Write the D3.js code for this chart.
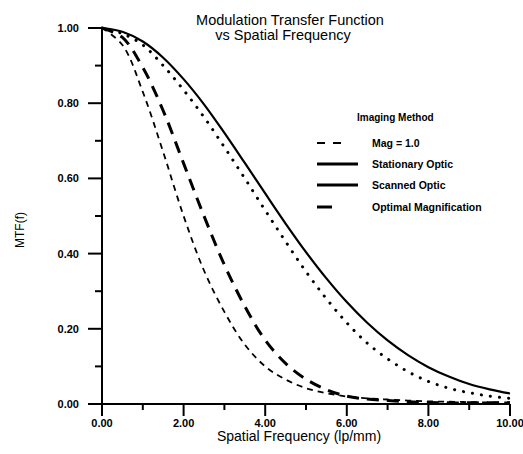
<!DOCTYPE html>
<html><head><meta charset="utf-8">
<script src="https://cdn.jsdelivr.net/npm/d3@7"></script>
<style>
body{margin:0;background:#fff;}
svg{display:block;}
text{font-family:"Liberation Sans",Arial,sans-serif;fill:#000;}
</style></head>
<body>
<svg id="c" width="523" height="454"></svg>
<script>
const freq       = [0,0.5,1,1.5,2,2.5,3,3.5,4,4.5,5,5.5,6,6.5,7,7.5,8,8.5,9,9.5,10];
const magOne     = [1.00,0.955,0.83,0.67,0.50,0.355,0.245,0.158,0.10,0.065,0.042,0.029,0.020,0.015,0.012,0.009,0.007,0.006,0.005,0.004,0.004];
const stationary = [1.00,0.99,0.964,0.921,0.864,0.797,0.721,0.641,0.56,0.48,0.404,0.334,0.271,0.216,0.169,0.13,0.098,0.073,0.053,0.039,0.028];
const scanned    = [1.00,0.985,0.955,0.90,0.835,0.763,0.683,0.60,0.515,0.432,0.352,0.28,0.216,0.162,0.12,0.086,0.06,0.042,0.030,0.021,0.015];
const optimal    = [1.00,0.975,0.895,0.78,0.64,0.50,0.37,0.26,0.17,0.108,0.066,0.038,0.021,0.013,0.009,0.006,0.004,0.003,0.003,0.003,0.003];
const xTicks = [0,2,4,6,8,10];
const yTicks = [0,0.2,0.4,0.6,0.8,1.0];
const seriesNames = ["Mag = 1.0","Stationary Optic","Scanned Optic","Optimal Magnification"];
const titleLines = ["Modulation Transfer Function","vs Spatial Frequency"];

const svg = d3.select("#c");
const x = d3.scaleLinear().domain([0,10]).range([102,510]);
const y = d3.scaleLinear().domain([0,1]).range([404,28]);

// ticks (major + minor)
svg.append("g").selectAll("line").data(d3.range(0,11,1)).enter().append("line")
  .attr("x1",d=>x(d)).attr("x2",d=>x(d)).attr("y1",y(0)).attr("y2",d=>y(0)+(d%2===0?12:6))
  .attr("stroke","#000").attr("stroke-width",2);
svg.append("g").selectAll("line").data(d3.range(0,11,1)).enter().append("line")
  .attr("y1",d=>y(d/10)).attr("y2",d=>y(d/10)).attr("x1",x(0)).attr("x2",d=>x(0)-(d%2===0?14:7))
  .attr("stroke","#000").attr("stroke-width",2);
// axis lines
svg.append("line").attr("x1",x(0)).attr("x2",x(10)).attr("y1",y(0)).attr("y2",y(0)).attr("stroke","#000").attr("stroke-width",2);
svg.append("line").attr("x1",x(0)).attr("x2",x(0)).attr("y1",y(1)).attr("y2",y(0)+12).attr("stroke","#000").attr("stroke-width",2);

// tick labels
svg.append("g").selectAll("text").data(xTicks).enter().append("text")
  .attr("x",d=>x(d)).attr("y",427).attr("text-anchor","middle")
  .attr("font-size",11).attr("font-weight","bold").text(d=>d.toFixed(2));
svg.append("g").selectAll("text").data(yTicks).enter().append("text")
  .attr("x",79).attr("y",d=>y(d)+4).attr("text-anchor","end")
  .attr("font-size",11).attr("font-weight","bold").text(d=>d.toFixed(2));

// axis titles
svg.append("text").attr("x",299).attr("y",441).attr("text-anchor","middle").attr("font-size",14).text("Spatial Frequency (lp/mm)");
svg.append("text").attr("transform","translate(24,230) rotate(-90)").attr("text-anchor","middle").attr("font-size",12).text("MTF(f)");

// title
svg.append("text").attr("x",290).attr("y",25).attr("text-anchor","middle").attr("font-size",14.5).text(titleLines[0]);
svg.append("text").attr("x",283).attr("y",40).attr("text-anchor","middle").attr("font-size",14.5).text(titleLines[1]);

const styles = [
  {w:1.8, dash:"6 5", cap:"butt"},
  {w:2.2, dash:null, cap:"butt"},
  {w:3, dash:"0.1 9", cap:"round"},
  {w:3, dash:"12 8", cap:"butt"}
];
const data = [magOne, stationary, scanned, optimal];
const line = d3.line().x((d,i)=>x(freq[i])).y(d=>y(d)).curve(d3.curveCatmullRom.alpha(0.5));
data.forEach((s,k)=>{
  svg.append("path").datum(s).attr("d",line).attr("fill","none").attr("stroke","#000")
    .attr("stroke-width",styles[k].w).attr("stroke-dasharray",styles[k].dash).attr("stroke-linecap",styles[k].cap);
});

// legend
const lg = svg.append("g");
lg.append("text").attr("x",357).attr("y",121).attr("font-size",10).attr("font-weight","bold").text("Imaging Method");
const rowsY = [143,164,185,207];
const legStyles = [
  {w:2, dash:"8 8", len:24},
  {w:3, dash:null, len:41},
  {w:3, dash:null, len:41},
  {w:3, dash:null, len:15}
];
seriesNames.forEach((n,i)=>{
  lg.append("line").attr("x1",317).attr("x2",317+legStyles[i].len).attr("y1",rowsY[i]).attr("y2",rowsY[i])
    .attr("stroke","#000").attr("stroke-width",legStyles[i].w).attr("stroke-dasharray",legStyles[i].dash);
  lg.append("text").attr("x",372).attr("y",rowsY[i]+4).attr("font-size",10.5).attr("font-weight","bold").text(n);
});
</script>
</body></html>
